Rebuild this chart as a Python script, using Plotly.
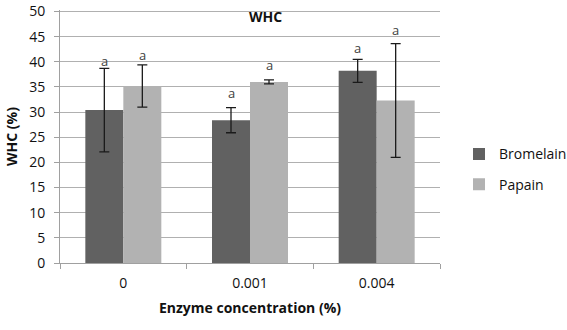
import plotly.graph_objects as go

categories = ["0", "0.001", "0.004"]
bromelain = [30.4, 28.4, 38.2]
bromelain_err = [8.3, 2.5, 2.3]
papain = [35.2, 36.0, 32.3]
papain_err = [4.2, 0.4, 11.3]
letters_b = ["a", "a", "a"]
letters_p = ["a", "a", "a"]
letter_y_b = [40.2, 33.8, 42.7]
letter_y_p = [41.3, 39.3, 46.3]

FONT = "Open Sans"
fig = go.Figure()
fig.add_trace(go.Bar(
    x=categories, y=bromelain, name="Bromelain", legendgroup="b",
    marker=dict(color="#616161", line=dict(width=0)),
    error_y=dict(type="data", array=bromelain_err, color="#1a1a1a", thickness=1.3, width=5),
))
fig.add_trace(go.Bar(
    x=categories, y=papain, name="Papain", legendgroup="p",
    marker=dict(color="#b2b2b2", line=dict(width=0)),
    error_y=dict(type="data", array=papain_err, color="#1a1a1a", thickness=1.3, width=5),
))
for i, c in enumerate(categories):
    fig.add_annotation(x=i, y=letter_y_b[i], text=letters_b[i], showarrow=False,
                       xshift=-19, font=dict(size=13, color="#404040", family=FONT))
    fig.add_annotation(x=i, y=letter_y_p[i], text=letters_p[i], showarrow=False,
                       xshift=19, font=dict(size=13, color="#404040", family=FONT))

fig.add_annotation(xref="paper", yref="paper", x=0.54, y=0.975, xanchor="center",
                   yanchor="middle", text="<b>WHC</b>",
                   showarrow=False, font=dict(size=14, color="#111", family=FONT))

fig.update_layout(
    width=567, height=330,
    margin=dict(l=60, r=127, t=10, b=67, autoexpand=False),
    paper_bgcolor="white", plot_bgcolor="white",
    barmode="group", bargap=0.40, bargroupgap=0,
    font=dict(family=FONT, size=14, color="#111"),
    legend=dict(x=1.05, y=0.37, xanchor="left", yanchor="middle",
                font=dict(size=14, color="#111"), tracegroupgap=9,
                itemwidth=30),
    xaxis=dict(type="category", tickson="boundaries", ticks="outside", ticklen=5,
               tickcolor="#a0a0a0", showline=True, linecolor="#a0a0a0", linewidth=1,
               showgrid=False, automargin=False, ticklabelstandoff=7,
               title=dict(text="<b>Enzyme concentration (%)</b>", font=dict(size=14), standoff=12),
               tickfont=dict(size=14)),
    yaxis=dict(range=[0, 50.3], dtick=5, showgrid=True, gridcolor="#b0b0b0", gridwidth=1,
               showline=True, linecolor="#a0a0a0", ticks="outside", ticklen=5,
               tickcolor="#a0a0a0", zeroline=False, automargin=False, ticklabelstandoff=6,
               ticklabeloverflow="allow",
               title=dict(text="<b>WHC (%)</b>", font=dict(size=14), standoff=8),
               tickfont=dict(size=14)),
)
fig.write_html("out.html", config={"displayModeBar": False},
               post_script="document.body.style.margin='0';document.body.style.overflow='hidden';")
